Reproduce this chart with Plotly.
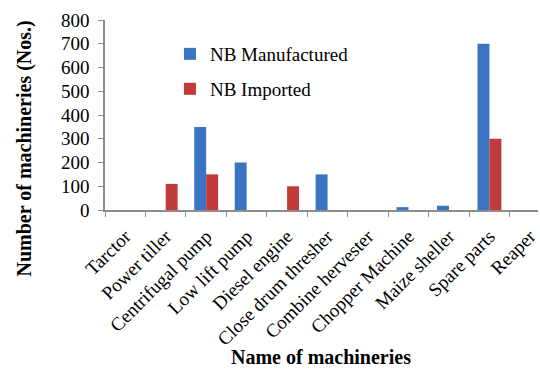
import plotly.graph_objects as go

machineries = ["Tarctor", "Power tiller", "Centrifugal pump", "Low lift pump",
               "Diesel engine", "Close drum thresher", "Combine hervester",
               "Chopper Machine", "Maize sheller", "Spare parts", "Reaper"]
nb_manufactured = [0, 0, 350, 200, 0, 150, 0, 12, 18, 700, 0]
nb_imported = [0, 110, 150, 0, 100, 0, 0, 0, 0, 300, 0]
y_ticks = [0, 100, 200, 300, 400, 500, 600, 700, 800]

serif = "Liberation Serif, Times New Roman, serif"
axis_grey = "#8c8c8c"

fig = go.Figure()
fig.add_trace(go.Bar(x=machineries, y=nb_manufactured, name="NB Manufactured",
                     marker=dict(color="#3a74c2", line=dict(width=0)),
                     legend="legend", showlegend=True))
fig.add_trace(go.Bar(x=machineries, y=nb_imported, name="NB Imported",
                     marker=dict(color="#c23b3b", line=dict(width=0)),
                     legend="legend2", showlegend=True))

legend_style = dict(font=dict(family=serif, size=19, color="#000"),
                    bgcolor="rgba(0,0,0,0)", xanchor="left", yanchor="middle",
                    itemwidth=30, visible=True)

fig.update_layout(
    width=540, height=370,
    margin=dict(l=105, r=0, t=20, b=160),
    paper_bgcolor="white", plot_bgcolor="white",
    barmode="group", bargap=0.41, bargroupgap=0,
    font=dict(family=serif, color="#000"),
    showlegend=True,
    legend=dict(x=0.15, y=0.821, **legend_style),
    legend2=dict(x=0.15, y=0.637, **legend_style),
    xaxis=dict(
        type="category", range=[-0.5, 10.2],
        showline=True, linecolor=axis_grey, linewidth=1.5,
        ticks="outside", tickson="boundaries", ticklen=5, tickcolor=axis_grey,
        tickangle=-45, ticklabelstandoff=6,
        tickfont=dict(family=serif, size=19, color="#000"),
        showgrid=False, zeroline=False,
    ),
    yaxis=dict(
        range=[0, 800], tickvals=y_ticks,
        showline=True, linecolor=axis_grey, linewidth=1.5,
        ticks="outside", ticklen=5, tickcolor=axis_grey, ticklabelstandoff=5,
        tickfont=dict(family=serif, size=19, color="#000"),
        showgrid=False, zeroline=False,
    ),
    annotations=[
        dict(text="<b>Number of machineries (Nos.)</b>", textangle=-90,
             xref="paper", yref="paper", x=-0.186, y=0.326,
             xanchor="center", yanchor="middle", showarrow=False,
             font=dict(family=serif, size=20, color="#000")),
        dict(text="<b>Name of machineries</b>",
             xref="paper", yref="paper", x=0.499, y=-0.775,
             xanchor="center", yanchor="middle", showarrow=False,
             font=dict(family=serif, size=20, color="#000")),
    ],
)

fig.write_html("out.html")
